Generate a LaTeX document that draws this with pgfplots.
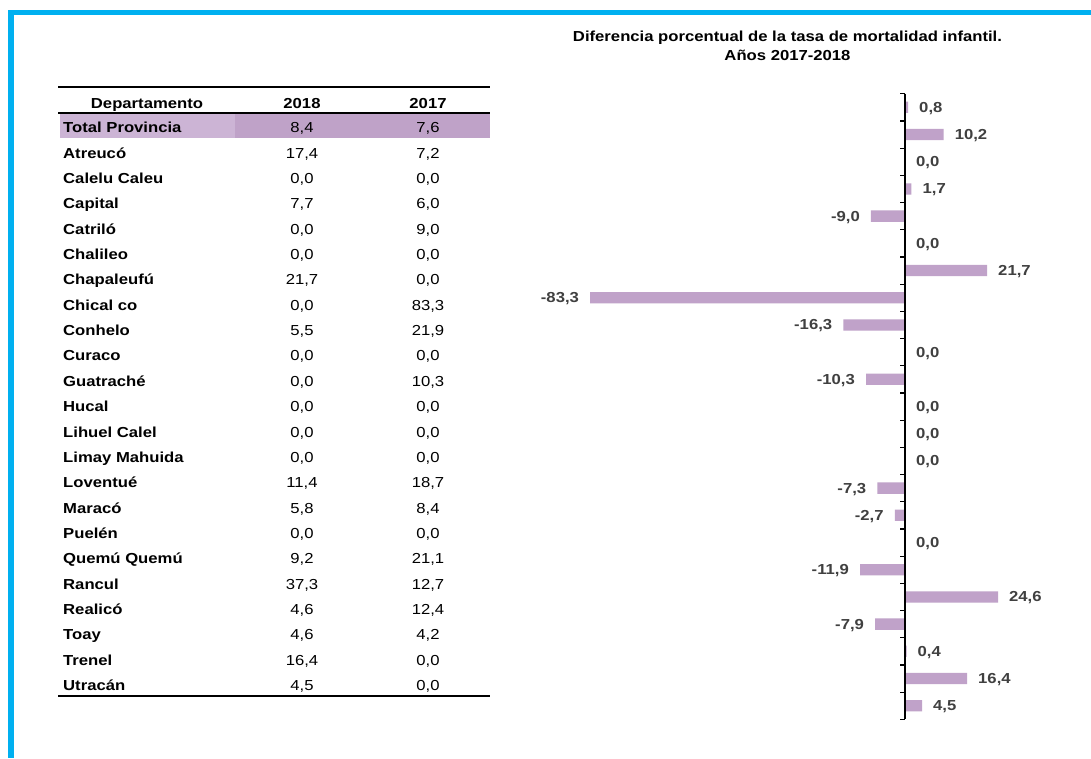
\documentclass[border=0pt]{standalone}
\usepackage{fontspec}
\setmainfont{Liberation Sans}[FakeStretch=1.15]
\usepackage{pgfplots}
\pgfplotsset{compat=1.18}
\definecolor{bluebord}{RGB}{0,176,240}
\definecolor{barc}{RGB}{192,162,201}
\definecolor{rowlight}{RGB}{204,180,213}
\definecolor{rowdark}{RGB}{191,162,200}
\definecolor{lab}{RGB}{64,64,64}
\pgfkeys{/pgf/number format/.cd, fixed, fixed zerofill, precision=1, use comma, assume math mode=true}
\newcommand{\tf}{\fontsize{14.5}{16}\selectfont}
\begin{document}
\begin{tikzpicture}
\path[use as bounding box] (0pt,0pt) rectangle (1091pt,758pt);
\fill[white] (0pt,0pt) rectangle (1091pt,758pt);
\fill[bluebord] (8pt,743pt) rectangle (1091pt,748pt);
\fill[bluebord] (8pt,0pt) rectangle (14pt,748pt);

% title
\node[font=\bfseries\tf, anchor=base, inner sep=0pt] at (787.5pt,716.3pt) {Diferencia porcentual de la tasa de mortalidad infantil.};
\node[font=\bfseries\tf, anchor=base, inner sep=0pt] at (787.5pt,697pt) {Años 2017-2018};

% table
\fill[rowlight] (60pt,644.7pt) rectangle (235pt,619.7pt);
\fill[rowdark] (235pt,644.7pt) rectangle (490pt,619.7pt);
\draw[line width=2pt] (58pt,670.7pt) -- (490pt,670.7pt);
\draw[line width=2pt] (58pt,645.3pt) -- (490pt,645.3pt);
\draw[line width=2pt] (58pt,62.3pt) -- (490pt,62.3pt);
\node[font=\bfseries\tf, anchor=base, inner sep=0pt] at (147pt,649.7pt) {Departamento};
\node[font=\bfseries\tf, anchor=base, inner sep=0pt] at (302pt,649.7pt) {2018};
\node[font=\bfseries\tf, anchor=base, inner sep=0pt] at (428pt,649.7pt) {2017};
\foreach \n/\a/\b [count=\i from 0] in {
  Total Provincia/8.4/7.6,
  Atreucó/17.4/7.2,
  Calelu Caleu/0.0/0.0,
  Capital/7.7/6.0,
  Catriló/0.0/9.0,
  Chalileo/0.0/0.0,
  Chapaleufú/21.7/0.0,
  Chical co/0.0/83.3,
  Conhelo/5.5/21.9,
  Curaco/0.0/0.0,
  Guatraché/0.0/10.3,
  Hucal/0.0/0.0,
  Lihuel Calel/0.0/0.0,
  Limay Mahuida/0.0/0.0,
  Loventué/11.4/18.7,
  Maracó/5.8/8.4,
  Puelén/0.0/0.0,
  Quemú Quemú/9.2/21.1,
  Rancul/37.3/12.7,
  Realicó/4.6/12.4,
  Toay/4.6/4.2,
  Trenel/16.4/0.0,
  Utracán/4.5/0.0}
{
  \node[font=\bfseries\tf, anchor=base west, inner sep=0pt] at (63pt,{625.3pt-25.36pt*\i}) {\n};
  \node[font=\tf, anchor=base, inner sep=0pt] at (302pt,{625.3pt-25.36pt*\i}) {\pgfmathprintnumber{\a}};
  \node[font=\tf, anchor=base, inner sep=0pt] at (428pt,{625.3pt-25.36pt*\i}) {\pgfmathprintnumber{\b}};
}

% bar chart
\begin{axis}[
  at={(527pt,38.7pt)}, anchor=south west,
  scale only axis, width=529.2pt, height=625.6pt,
  xmin=-100, xmax=40, ymin=0.5, ymax=23.5,
  y dir=reverse,
  hide axis,
  clip=false,
  xbar, bar width=11.3pt,
  point meta=x,
  /pgf/number format/.cd, fixed, fixed zerofill, precision=1, use comma, assume math mode=true,
  /pgfplots/.cd,
  nodes near coords,
  nodes near coords align={horizontal},
  every node near coord/.append style={font=\bfseries\tf, text=lab, inner xsep=11pt, inner ysep=0pt, yshift=-1pt},
]
\addplot[fill=barc, draw=none] coordinates {
  (0.8,1) (10.2,2) (0.0,3) (1.7,4) (-9.0,5) (0.0,6) (21.7,7) (-83.3,8)
  (-16.3,9) (0.0,10) (-10.3,11) (0.0,12) (0.0,13) (0.0,14) (-7.3,15)
  (-2.7,16) (0.0,17) (-11.9,18) (24.6,19) (-7.9,20) (0.4,21) (16.4,22) (4.5,23)
};
\end{axis}
\begin{axis}[
  at={(905pt,38.7pt)}, anchor=south west,
  scale only axis, width=10pt, height=625.6pt,
  xmin=0, xmax=1, ymin=0.5, ymax=23.5,
  y dir=reverse,
  axis x line=none,
  axis y line*=left,
  ytick={0.5,1.5,...,23.5},
  yticklabel=\empty,
  tick align=outside,
  major tick length=5pt,
  every tick/.style={black, line width=1.2pt},
  axis line style={black, line width=1.2pt},
]
\end{axis}
\end{tikzpicture}
\end{document}
